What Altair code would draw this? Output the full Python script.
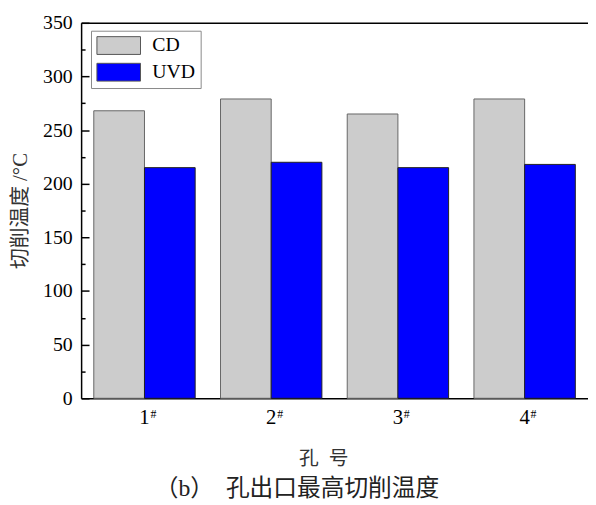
import altair as alt
import pandas as pd

holes = ["1", "2", "3", "4"]
types = ["CD", "UVD"]
cd_temps = [268, 279, 265, 279]
uvd_temps = [215, 220, 215, 218]
y_major = [0, 50, 100, 150, 200, 250, 300, 350]
y_minor = [25, 75, 125, 175, 225, 275, 325]

rows = []
for h, c, u in zip(holes, cd_temps, uvd_temps):
    rows.append({"hole": h, "type": "CD", "temp": c})
    rows.append({"hole": h, "type": "UVD", "temp": u})
df = pd.DataFrame(rows)

W = 513
H = 380
serif = "Liberation Serif"
cjk = "Noto Sans CJK SC"
mixed = f"{serif}, {cjk}"

yscale = alt.Scale(domain=[0, 350], nice=False, zero=True)
xscale = alt.Scale(domain=holes, paddingInner=0.2, paddingOuter=0.1)

bars = alt.Chart(df).mark_bar(strokeWidth=1).encode(
    x=alt.X("hole:N", scale=xscale, axis=alt.Axis(
        orient="bottom", title="孔\u2002号", ticks=False, domain=True,
        domainColor="#000", domainWidth=1.5, labelAngle=0, labelFont=serif,
        labelFontSize=21, labelColor="#000", labelPadding=9,
        titleFont=cjk, titleFontSize=20, titleFontWeight="normal",
        titleColor="#333", titleX=245, titleY=51)),
    xOffset=alt.XOffset("type:N", scale=alt.Scale(domain=types, paddingInner=0, paddingOuter=0)),
    y=alt.Y("temp:Q", scale=yscale, axis=alt.Axis(
        orient="left", values=y_major, ticks=False, domain=True,
        domainColor="#000", domainWidth=1.5, grid=False, labelFont=serif,
        labelFontSize=20, labelColor="#000", labelPadding=9,
        title="切削温度 /°C", titleFont=mixed, titleFontSize=21,
        titleFontWeight="normal", titleColor="#333", titlePadding=12)),
    color=alt.Color("type:N", scale=alt.Scale(domain=types, range=["#cccccc", "#0000ff"]),
                    legend=alt.Legend(
                        title=None, orient="none", legendX=10, legendY=8,
                        direction="vertical", symbolType="M-1,-1H3.9V1H-1Z",
                        symbolSize=324, symbolStrokeColor="#555", symbolStrokeWidth=1,
                        symbolOpacity=1, labelFont=serif, labelFontSize=20,
                        labelColor="#000", labelOffset=37, rowPadding=5, padding=5,
                        fillColor="#ffffff", strokeColor="#888", labelLimit=0)),
    stroke=alt.condition(alt.datum.type == "CD", alt.value("#666666"), alt.value("#222222")),
)

ticks_major = alt.Chart(df).mark_bar(opacity=0).encode(
    x=alt.X("hole:N", scale=xscale, axis=alt.Axis(
        orient="top", labels=False, ticks=False, domain=True,
        domainColor="#000", domainWidth=1.5, title=None)),
    y=alt.Y("temp:Q", scale=yscale, axis=alt.Axis(
        orient="right", offset=-W, values=y_major, labels=False, ticks=True,
        tickSize=8, tickColor="#000", tickWidth=1.5, domain=False, grid=False, title=None)),
)

ticks_minor = alt.Chart(df).mark_bar(opacity=0).encode(
    x=alt.X("hole:N", scale=xscale, axis=alt.Axis(
        orient="bottom", labelExpr="'#'", labelFont=serif, labelFontSize=12,
        labelColor="#000", labelOffset=9, labelPadding=10, labelAngle=0,
        ticks=False, domain=False, title=None)),
    y=alt.Y("temp:Q", scale=yscale, axis=alt.Axis(
        orient="right", offset=-W, values=y_minor, labels=False, ticks=True,
        tickSize=4, tickColor="#000", tickWidth=1.5, domain=False, grid=False, title=None)),
)

chart = alt.layer(bars, ticks_major, ticks_minor).resolve_axis(
    x="independent", y="independent"
).properties(
    width=W, height=H,
    autosize=alt.AutoSizeParams(type="none"),
    padding={"left": 74, "top": 12, "right": 0, "bottom": 104},
    title=alt.TitleParams(
        text="（b）\u3000孔出口最高切削温度", orient="bottom", anchor="middle",
        font=mixed, fontSize=24, fontWeight="normal", color="#222", offset=9, dx=-38),
).configure_view(stroke=None)

chart.save("out.html", embed_options={"renderer": "svg", "actions": False})
